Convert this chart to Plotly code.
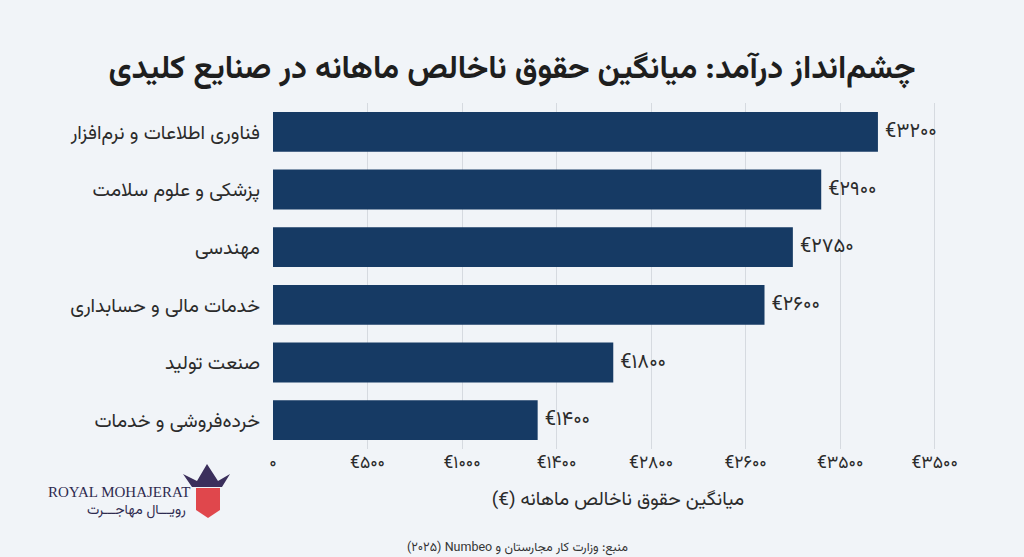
import plotly.graph_objects as go

categories = ["فناوری اطلاعات و نرم‌افزار", "پزشکی و علوم سلامت", "مهندسی",
              "خدمات مالی و حسابداری", "صنعت تولید", "خرده‌فروشی و خدمات"]
values = [3200, 2900, 2750, 2600, 1800, 1400]
value_labels = ["€۳۲۰۰", "€۲۹۰۰", "€۲۷۵۰", "€۲۶۰۰", "€۱۸۰۰", "€۱۴۰۰"]
tick_vals = [0, 500, 1000, 1500, 2000, 2500, 3000, 3500]
tick_text = ["۰", "€۵۰۰", "€۱۰۰۰", "€۱۴۰۰", "€۲۸۰۰", "€۲۶۰۰", "€۳۵۰۰", "€۳۵۰۰"]

RLE, PDF, RLM = "\u202B", "\u202C", "\u200F"
FONT = "Vazirmatn, 'Noto Sans Arabic', 'DejaVu Sans', sans-serif"
BG = "#f1f4f8"
BAR = "#163a64"

fig = go.Figure(go.Bar(
    x=values, y=categories, orientation="h",
    marker=dict(color=BAR, line=dict(width=0)),
    text=["\u2009" + t for t in value_labels], textposition="outside", cliponaxis=False,
    textfont=dict(family=FONT, size=20, color="#2b2b2b"),
    hoverinfo="skip",
))

fig.update_layout(
    width=1024, height=557,
    paper_bgcolor=BG, plot_bgcolor=BG,
    margin=dict(l=273, r=61, t=103, b=108),
    bargap=0.31,
    showlegend=False,
    font=dict(family=FONT, color="#2b2b2b"),
    title=dict(text="<b>" + RLE + "چشم‌انداز درآمد: میانگین حقوق ناخالص ماهانه در صنایع کلیدی" + PDF + "</b>",
               x=0.5, xref="container", xanchor="center", y=0.88, yref="container", yanchor="middle",
               font=dict(family=FONT, size=32, color="#1e1e1e")),
    xaxis=dict(range=[0, 3650], tickvals=tick_vals, ticktext=tick_text,
               showgrid=True, gridcolor="#d6dae0", gridwidth=1, zeroline=False,
               showline=False, ticks="", tickfont=dict(family=FONT, size=17.5, color="#2b2b2b"),
               title=dict(text=RLE + "میانگین حقوق ناخالص ماهانه (€)" + PDF, standoff=16,
                          font=dict(family=FONT, size=19, color="#2b2b2b"))),
    yaxis=dict(autorange="reversed", showgrid=False, zeroline=False, showline=False,
               ticks="", ticklabelstandoff=12,
               tickfont=dict(family=FONT, size=19.5, color="#2b2b2b")),
)

fig.add_annotation(text=RLE + "منبع: وزارت کار مجارستان و Numbeo" + RLM + " (۲۰۲۵)" + RLM + PDF,
                   xref="paper", yref="paper",
                   x=(517 - 273) / (1024 - 273 - 61), y=-(548 - 449) / (557 - 103 - 108),
                   xanchor="center", yanchor="middle", showarrow=False,
                   font=dict(family=FONT, size=12.5, color="#333"))

# logo (decorative)
fig.add_annotation(text="ROYAL MOHAJERAT", xref="paper", yref="paper",
                   x=-(273 - 192) / 690, y=-(492 - 449) / 346, xanchor="right", yanchor="middle",
                   showarrow=False, font=dict(family="Liberation Serif, serif", size=15, color="#2e2a4f"))
fig.add_annotation(text="رویـــال مهاجـــرت", xref="paper", yref="paper",
                   x=-(273 - 188) / 690, y=-(511 - 449) / 346, xanchor="right", yanchor="middle",
                   showarrow=False, font=dict(family=FONT, size=14, color="#2e2a4f"))
fig.add_shape(type="path", xref="paper", yref="paper", layer="above",
              path="M %f %f L %f %f L %f %f L %f %f L %f %f Z" % tuple(
                  v for px, py in [(196, 488), (220, 488), (220, 510), (208, 518), (196, 510)]
                  for v in ((px - 273) / 690, (449 - py) / 346)),
              fillcolor="#e0474c", line=dict(width=0))
fig.add_shape(type="path", xref="paper", yref="paper", layer="above",
              path="M %f %f L %f %f L %f %f L %f %f L %f %f L %f %f L %f %f Z" % tuple(
                  v for px, py in [(183, 474), (197, 481), (207, 464), (218, 481), (230, 474), (222, 487), (192, 487)]
                  for v in ((px - 273) / 690, (449 - py) / 346)),
              fillcolor="#3b2f5c", line=dict(width=0))

fig.write_html("out.html")
